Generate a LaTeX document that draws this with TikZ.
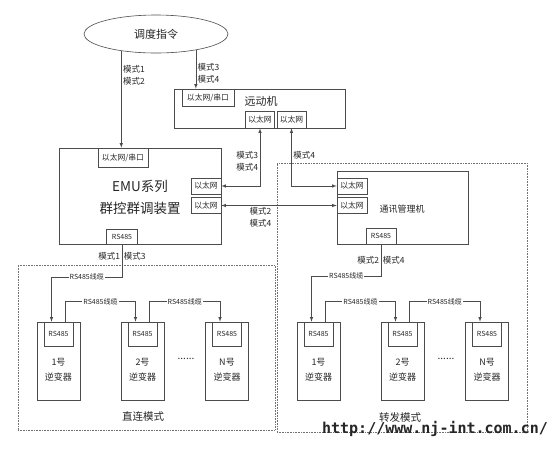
\documentclass[tikz,border=0pt]{standalone}
\usepackage{fontspec}
\setmainfont{Noto Sans CJK SC}
\newfontfamily\wmfont{DejaVu Sans Mono}
\usetikzlibrary{arrows, calc, positioning, shapes.geometric}

\tikzset{
    unit/.style={draw=black!70, line width=0.6pt, inner sep=0pt},
    port/.style={unit, font=\fontsize{7.8}{9}\selectfont},
    rsport/.style={port, font=\fontsize{7}{8}\selectfont},
    lbl/.style={font=\fontsize{8.5}{12}\selectfont, inner sep=1.5pt},
    cbl/.style={font=\fontsize{7}{8}\selectfont, inner sep=1pt, fill=white},
    wire/.style={draw=black!70, line width=0.6pt},
    zone/.style={draw=black!55, densely dotted, line width=0.6pt, inner sep=0pt}
}

\begin{document}
\begin{tikzpicture}[x=1pt, y=-1pt, >=latex, every node/.append style={text=black!85}]
\useasboundingbox (0,0) rectangle (560,459);

% mode zones
\node[zone, minimum width=257, minimum height=165] (zl) at (146.5,347.5) {};
\node[zone, minimum width=250, minimum height=269] (zr) at (402,297.5) {};
\node[font=\fontsize{10.5}{12}\selectfont] (zlT) at (143,417) {直连模式};
\node[font=\fontsize{10.5}{12}\selectfont] (zrT) at (400,417) {转发模式};

% dispatch
\node[unit, ellipse, minimum width=144, minimum height=38, font=\fontsize{11}{13}\selectfont] (ddzl) at (156,34) {调度指令};

% RTU
\node[unit, minimum width=171, minimum height=39] (ydj) at (259.5,108.5) {};
\node[font=\fontsize{11}{13}\selectfont] (ydjT) at (261,101) {远动机};
\node[port, minimum width=52, minimum height=17] (ydjS) at (208,97.5) {以太网/串口};
\node[port, minimum width=29, minimum height=17] (ydjE1) at (260,119.5) {以太网};
\node[port, minimum width=29, minimum height=17] (ydjE2) at (291.5,119.5) {以太网};

% EMU controller
\node[unit, minimum width=162, minimum height=96] (emu) at (140,196) {};
\node[font=\fontsize{13.5}{22}\selectfont, align=center] (emuT) at (140,197) {EMU系列\\群控群调装置};
\node[port, minimum width=50, minimum height=19] (emuS) at (123,157.5) {以太网/串口};
\node[port, minimum width=30, minimum height=16] (emuE1) at (206,186) {以太网};
\node[port, minimum width=30, minimum height=16] (emuE2) at (206,205.5) {以太网};
\node[rsport, minimum width=31, minimum height=15] (emuR) at (122,236.5) {RS485};

% communication manager
\node[unit, minimum width=131, minimum height=73] (txj) at (402.5,207.5) {};
\node[font=\fontsize{9}{11}\selectfont] (txjT) at (402,209) {通讯管理机};
\node[port, minimum width=30, minimum height=16] (txjE1) at (352,186) {以太网};
\node[port, minimum width=30, minimum height=16] (txjE2) at (352,205.5) {以太网};
\node[rsport, minimum width=30, minimum height=16] (txjR) at (381,236) {RS485};

% inverters
\foreach \z/\dx in {a/0, b/260} {
    \foreach \i/\x/\t in {1/58.5/1号, 2/142.5/2号, 3/227/N号} {
        \node[unit, minimum width=43, minimum height=78] (\z inv\i) at (\x+\dx,361) {};
        \node[rsport, minimum width=29, minimum height=24] (\z p\i) at (\x+\dx,334) {RS485};
        \node[font=\fontsize{9}{15}\selectfont, align=center] (\z t\i) at (\x+\dx,369.5) {\t\\逆变器};
        \coordinate (\z in\i) at ($(\z p\i.north)+(-7,0)$);
        \coordinate (\z out\i) at ($(\z p\i.north)+(7,0)$);
    }
    \node[font=\fontsize{10}{12}\selectfont] (\z dots) at (186+\dx,359) {......};
    \draw[wire, ->] (\z out1) -- ++(0,-20) -| node[cbl, pos=0.25] {RS485线缆} (\z in2);
    \draw[wire, ->] (\z out2) -- ++(0,-20) -| node[cbl, pos=0.25] {RS485线缆} (\z in3);
}

% links
\draw[wire, ->] (ddzl.206) -- node[lbl, pos=0.25, right, align=left] {模式1\\模式2} (ddzl.206 |- emuS.north);
\draw[wire, ->] (ddzl.338) -- node[lbl, pos=0.59, right, align=left] {模式3\\模式4} (ddzl.338 |- ydjS.north);
\draw[wire, <->] (ydjE1.south) |- node[lbl, pos=0.29, left, align=left] {模式3\\模式4} (emuE1.east);
\draw[wire, <->] (ydjE2.south) |- node[lbl, pos=0.23, right] {模式4} (txjE1.west);
\draw[wire, <->] (emuE2.east) -- node[lbl, pos=0.34, below, align=left] {模式2\\模式4} (txjE2.west);

\draw[wire, ->] (emuR.south) -- node[lbl, pos=0.36, left] {模式1} node[lbl, pos=0.36, right] {模式3} ++(0,33)
    -| node[cbl, pos=0.25] {RS485线缆} (ain1);
\draw[wire, ->] (txjR.south) -- node[lbl, pos=0.5, left] {模式2} node[lbl, pos=0.5, right] {模式4} ++(0,32)
    -| node[cbl, pos=0.25] {RS485线缆} (bin1);

% site mark
\node[font=\wmfont\bfseries\fontsize{15}{16}\selectfont] (wm) at (435,429) {http://www.nj-int.com.cn/};
\end{tikzpicture}
\end{document}
